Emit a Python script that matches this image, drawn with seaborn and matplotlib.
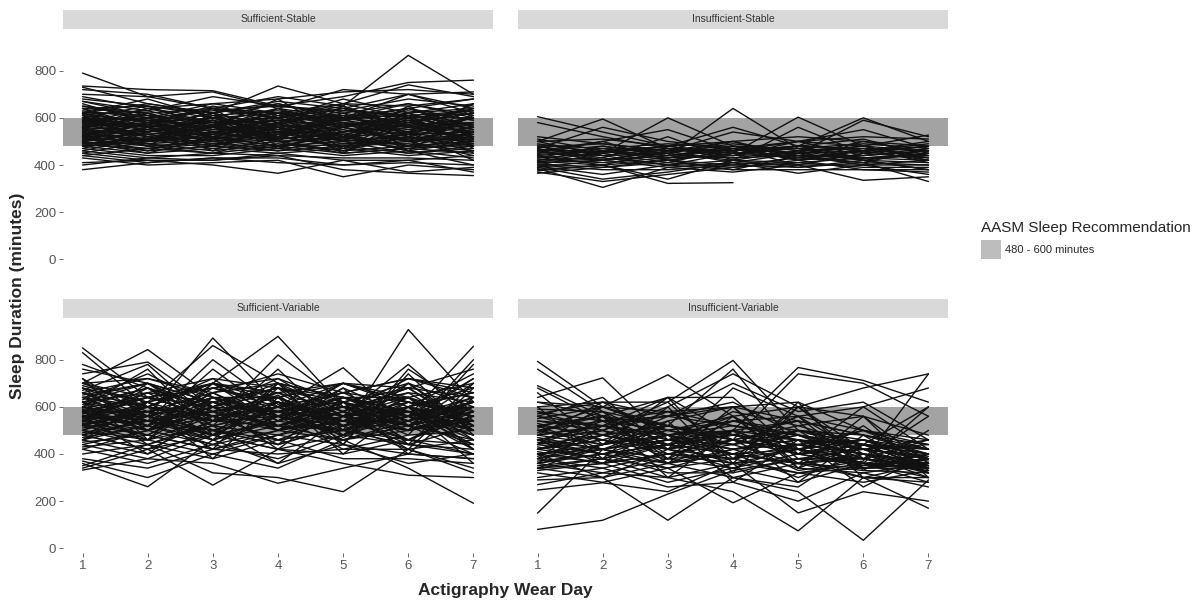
import numpy as np
import pandas as pd
import matplotlib
matplotlib.use("Agg")
import matplotlib.pyplot as plt
from matplotlib.patches import Patch, Rectangle
import seaborn as sns

days = [1, 2, 3, 4, 5, 6, 7]
panel_names = ["Sufficient-Stable", "Insufficient-Stable", "Sufficient-Variable", "Insufficient-Variable"]
band_low, band_high = 480, 600
band_label = "480 - 600 minutes"
legend_title = "AASM Sleep Recommendation"
y_ticks = [0, 200, 400, 600, 800]

# une ligne = un participant, 7 jours de port
suff_stable = [
    [790, 690, 640, 620, 600, 610, 630],
    [735, 720, 715, 650, 690, 750, 760],
    [720, 700, 640, 690, 650, 865, 700],
    [730, 660, 620, 735, 660, 740, 690],
    [700, 690, 710, 640, 720, 700, 640],
    [690, 640, 660, 680, 710, 720, 700],
    [680, 650, 620, 670, 640, 700, 710],
    [670, 630, 690, 650, 630, 680, 650],
    [650, 620, 640, 600, 660, 650, 680],
    [640, 650, 610, 630, 590, 620, 660],
    [630, 600, 630, 650, 620, 660, 610],
    [625, 610, 580, 600, 640, 600, 630],
    [620, 580, 600, 620, 590, 630, 590],
    [615, 630, 570, 590, 610, 580, 620],
    [610, 560, 600, 570, 630, 610, 570],
    [600, 590, 560, 610, 570, 600, 600],
    [595, 570, 620, 560, 600, 570, 580],
    [590, 600, 550, 590, 560, 620, 550],
    [585, 550, 590, 540, 580, 560, 600],
    [580, 610, 540, 580, 610, 540, 570],
    [575, 560, 580, 600, 540, 590, 530],
    [570, 530, 560, 550, 590, 550, 580],
    [565, 580, 530, 570, 530, 580, 540],
    [560, 540, 570, 520, 570, 530, 560],
    [555, 520, 550, 560, 510, 560, 520],
    [550, 570, 520, 540, 560, 510, 550],
    [545, 530, 560, 510, 540, 570, 500],
    [540, 500, 530, 550, 500, 530, 540],
    [535, 550, 500, 530, 550, 500, 520],
    [530, 510, 540, 500, 520, 540, 490],
    [525, 490, 510, 540, 490, 510, 530],
    [520, 530, 490, 510, 530, 480, 500],
    [515, 500, 520, 480, 500, 520, 480],
    [510, 480, 500, 520, 480, 500, 510],
    [505, 510, 470, 500, 510, 470, 490],
    [500, 470, 490, 470, 490, 490, 460],
    [495, 490, 460, 490, 460, 480, 480],
    [490, 460, 480, 460, 480, 450, 470],
    [485, 470, 450, 480, 450, 470, 450],
    [480, 450, 470, 450, 470, 440, 460],
    [470, 440, 440, 470, 440, 460, 430],
    [460, 430, 450, 440, 430, 430, 420],
    [450, 420, 420, 450, 420, 420, 440],
    [440, 410, 430, 430, 400, 410, 400],
    [430, 400, 410, 420, 350, 400, 380],
    [410, 420, 400, 365, 420, 370, 390],
    [400, 430, 420, 440, 380, 365, 355],
    [380, 410, 430, 410, 400, 420, 370],
    [600, 650, 560, 680, 520, 640, 560],
    [560, 480, 620, 500, 650, 520, 660],
    [520, 600, 480, 620, 470, 610, 480],
    [640, 540, 600, 520, 620, 500, 640],
    [480, 560, 460, 580, 450, 600, 450],
    [610, 500, 640, 480, 600, 460, 620],
    [570, 620, 510, 640, 500, 650, 510],
    [660, 580, 650, 600, 680, 620, 640],
    [620, 680, 600, 660, 600, 700, 620],
    [500, 540, 590, 470, 560, 610, 470],
    [450, 500, 520, 480, 530, 460, 500],
    [590, 520, 480, 560, 460, 540, 420],
    [620, 540, 590, 510, 610, 530, 600],
    [540, 620, 520, 600, 500, 620, 520],
    [580, 500, 610, 530, 580, 480, 610],
    [500, 580, 530, 610, 540, 590, 500],
    [640, 560, 520, 580, 640, 560, 520],
    [470, 540, 600, 540, 470, 520, 580],
    [600, 520, 560, 640, 560, 500, 560],
    [560, 640, 600, 520, 600, 660, 600],
    [520, 460, 540, 590, 520, 580, 640],
    [610, 590, 510, 470, 540, 600, 480],
    [490, 510, 570, 620, 580, 520, 460],
    [650, 600, 540, 560, 520, 480, 540],
    [530, 570, 640, 600, 650, 560, 600],
    [460, 520, 480, 530, 600, 640, 560],
    [580, 640, 580, 500, 460, 520, 500],
    [620, 660, 620, 560, 580, 540, 660],
    [540, 480, 450, 520, 560, 600, 620],
    [500, 450, 520, 580, 620, 580, 540],
    [590, 560, 620, 660, 600, 640, 590],
    [480, 500, 540, 500, 450, 470, 520],
    [560, 600, 660, 620, 560, 500, 440],
    [640, 620, 560, 520, 480, 540, 600],
    [510, 560, 500, 460, 520, 570, 510],
    [670, 610, 580, 640, 600, 560, 580],
    [440, 470, 510, 560, 500, 450, 480],
    [600, 560, 500, 540, 590, 640, 680],
    [550, 500, 560, 620, 660, 600, 550],
    [520, 580, 640, 580, 520, 460, 400],
]

insuff_stable = [
    [605, 540, 480, 450, 440, 430, 440],
    [580, 520, 470, 460, 480, 470, 460],
    [500, 595, 470, 430, 460, 420, 450],
    [470, 560, 500, 470, 430, 460, 480],
    [490, 450, 600, 480, 420, 440, 470],
    [460, 480, 440, 640, 470, 430, 450],
    [440, 460, 480, 560, 480, 600, 500],
    [480, 440, 470, 450, 603, 480, 460],
    [450, 470, 430, 480, 450, 590, 520],
    [520, 490, 460, 540, 500, 480, 527],
    [500, 510, 480, 500, 520, 500, 480],
    [485, 470, 490, 470, 500, 520, 510],
    [475, 490, 460, 480, 470, 490, 470],
    [465, 455, 470, 460, 480, 460, 490],
    [455, 440, 450, 490, 460, 470, 440],
    [445, 460, 420, 450, 470, 450, 430],
    [435, 420, 440, 430, 440, 440, 460],
    [430, 450, 410, 470, 420, 460, 420],
    [425, 410, 430, 440, 450, 420, 410],
    [420, 430, 400, 420, 410, 430, 440],
    [415, 400, 420, 400, 430, 410, 400],
    [410, 420, 390, 410, 400, 400, 420],
    [405, 390, 410, 390, 410, 390, 390],
    [400, 380, 380, 400, 390, 420, 380],
    [395, 360, 400, 380, 380, 380, 370],
    [390, 340, 370, 410, 365, 400, 360],
    [385, 305, 390, 370, 400, 335, 350],
    [380, 400, 340, 420, 390, 410, 330],
    [375, 400, 322, 325, np.nan, np.nan, np.nan],
    [370, 330, 360, 390, 420, 380, 380],
    [365, 390, 420, 380, 440, 400, 400],
    [450, 500, 550, 460, 500, 550, 470],
    [470, 430, 520, 420, 560, 450, 480],
    [430, 480, 450, 500, 440, 500, 450],
    [460, 420, 470, 440, 480, 430, 420],
    [510, 460, 440, 470, 450, 460, 500],
    [420, 470, 450, 420, 460, 480, 430],
    [480, 420, 440, 480, 440, 410, 470],
    [440, 400, 460, 500, 420, 470, 410],
    [400, 450, 480, 440, 500, 440, 460],
    [460, 500, 420, 460, 480, 510, 440],
    [410, 460, 430, 470, 400, 450, 480],
    [500, 440, 400, 450, 470, 420, 380],
    [390, 420, 460, 410, 450, 480, 420],
]

suff_variable = [
    [850, 640, 560, 600, 520, 580, 540],
    [830, 600, 700, 520, 620, 500, 600],
    [780, 680, 540, 650, 470, 600, 680],
    [740, 790, 600, 720, 560, 660, 500],
    [720, 560, 892, 610, 540, 700, 520],
    [700, 843, 640, 560, 700, 600, 740],
    [690, 620, 860, 700, 520, 640, 460],
    [680, 500, 700, 899, 600, 560, 620],
    [670, 780, 540, 820, 620, 700, 600],
    [660, 540, 800, 600, 766, 520, 700],
    [650, 700, 520, 760, 500, 928, 620],
    [640, 600, 720, 540, 680, 560, 857],
    [630, 740, 600, 680, 560, 780, 540],
    [620, 520, 680, 720, 620, 500, 800],
    [610, 680, 500, 600, 700, 620, 560],
    [600, 560, 640, 500, 580, 720, 660],
    [595, 640, 560, 660, 520, 560, 720],
    [590, 500, 600, 580, 640, 640, 520],
    [585, 620, 540, 620, 560, 580, 600],
    [580, 580, 620, 560, 600, 520, 580],
    [575, 540, 580, 640, 540, 600, 540],
    [570, 660, 520, 580, 620, 540, 620],
    [565, 520, 660, 520, 580, 680, 500],
    [560, 600, 560, 600, 520, 620, 560],
    [555, 560, 500, 560, 600, 560, 640],
    [550, 640, 600, 500, 560, 500, 580],
    [545, 500, 640, 640, 500, 640, 520],
    [540, 580, 540, 560, 640, 580, 460],
    [535, 620, 480, 620, 540, 540, 600],
    [530, 540, 580, 520, 600, 460, 560],
    [525, 480, 620, 580, 480, 600, 500],
    [520, 600, 520, 480, 580, 520, 620],
    [510, 560, 460, 560, 520, 580, 440],
    [500, 460, 560, 600, 460, 500, 560],
    [490, 540, 500, 460, 560, 440, 520],
    [480, 420, 540, 520, 500, 560, 420],
    [470, 520, 440, 560, 420, 480, 500],
    [460, 400, 500, 440, 520, 420, 460],
    [450, 480, 420, 500, 460, 520, 400],
    [440, 380, 480, 420, 400, 460, 440],
    [430, 460, 400, 480, 440, 400, 380],
    [420, 360, 440, 380, 480, 440, 420],
    [400, 440, 380, 460, 380, 380, 360],
    [380, 340, 420, 400, 420, 420, 340],
    [360, 261, 460, 360, 440, 360, 400],
    [340, 420, 268, 420, 360, 310, 300],
    [332, 380, 360, 276, 340, 400, 380],
    [350, 440, 320, 300, 240, 420, 320],
    [370, 300, 400, 340, 460, 340, 191],
    [720, 460, 640, 500, 680, 440, 700],
    [600, 760, 480, 700, 440, 740, 480],
    [700, 640, 700, 640, 700, 680, 760],
    [660, 720, 660, 740, 660, 720, 680],
    [480, 600, 380, 640, 400, 600, 420],
    [560, 400, 600, 420, 620, 400, 640],
    [620, 440, 520, 360, 560, 460, 600],
    [460, 620, 460, 680, 480, 700, 500],
    [520, 700, 580, 440, 640, 540, 720],
    [640, 520, 760, 560, 600, 480, 780],
    [580, 460, 700, 620, 440, 760, 580],
    [500, 580, 420, 700, 580, 420, 680],
    [760, 700, 620, 680, 640, 560, 600],
    [420, 500, 560, 460, 500, 600, 360],
    [680, 580, 480, 540, 700, 640, 420],
    [540, 660, 620, 500, 540, 500, 540],
    [600, 500, 660, 540, 640, 520, 580],
    [540, 680, 580, 640, 520, 600, 500],
    [660, 560, 480, 600, 660, 540, 640],
    [500, 620, 700, 560, 480, 620, 560],
    [620, 700, 560, 500, 620, 680, 520],
    [560, 480, 620, 680, 600, 520, 620],
    [700, 600, 540, 620, 560, 640, 700],
    [460, 560, 640, 580, 540, 460, 580],
    [580, 640, 560, 460, 500, 580, 480],
    [640, 540, 600, 700, 640, 580, 500],
    [520, 460, 520, 580, 660, 620, 560],
    [680, 620, 680, 600, 520, 560, 600],
    [480, 540, 460, 540, 600, 660, 620],
    [600, 680, 600, 520, 460, 540, 440],
    [560, 600, 700, 660, 580, 500, 580],
    [440, 500, 580, 620, 560, 600, 660],
    [620, 560, 500, 440, 520, 600, 540],
    [500, 440, 540, 600, 620, 560, 480],
    [700, 720, 640, 580, 600, 640, 560],
    [580, 520, 460, 520, 580, 680, 640],
    [520, 580, 660, 700, 640, 580, 520],
    [640, 700, 620, 560, 500, 440, 400],
    [460, 520, 600, 660, 700, 620, 560],
    [600, 540, 480, 420, 480, 560, 620],
    [560, 640, 680, 620, 560, 520, 460],
    [540, 480, 420, 480, 540, 600, 660],
    [620, 660, 720, 680, 620, 560, 500],
    [480, 420, 480, 540, 500, 460, 400],
    [660, 600, 560, 600, 660, 720, 640],
    [580, 500, 440, 500, 560, 620, 580],
]

insuff_variable = [
    [793, 600, 520, 480, 460, 440, 420],
    [690, 560, 480, 400, 500, 420, 380],
    [680, 540, 560, 620, 480, 380, 350],
    [640, 723, 460, 420, 440, 400, 360],
    [620, 600, 736, 560, 420, 460, 400],
    [600, 620, 620, 797, 500, 480, 440],
    [590, 580, 520, 760, 420, 500, 380],
    [580, 500, 600, 740, 600, 420, 460],
    [570, 620, 480, 500, 767, 712, 620],
    [560, 480, 580, 460, 740, 700, 560],
    [550, 600, 500, 560, 600, 680, 740],
    [540, 520, 640, 640, 400, 600, 680],
    [530, 460, 540, 600, 380, 360, 600],
    [520, 560, 440, 580, 520, 440, 340],
    [510, 600, 500, 440, 560, 500, 420],
    [500, 440, 560, 520, 480, 380, 460],
    [490, 580, 460, 480, 440, 460, 380],
    [480, 520, 420, 540, 560, 400, 340],
    [470, 420, 520, 460, 500, 340, 400],
    [460, 500, 380, 500, 400, 420, 320],
    [450, 400, 480, 420, 460, 360, 360],
    [440, 540, 400, 380, 500, 440, 340],
    [430, 380, 460, 440, 360, 400, 300],
    [420, 460, 360, 400, 420, 340, 380],
    [410, 360, 440, 360, 380, 380, 320],
    [400, 420, 340, 420, 340, 320, 360],
    [390, 480, 420, 340, 440, 360, 300],
    [380, 340, 400, 380, 320, 340, 340],
    [370, 400, 320, 320, 380, 300, 280],
    [360, 320, 380, 400, 300, 400, 320],
    [350, 380, 300, 360, 420, 340, 360],
    [340, 300, 360, 300, 360, 300, 300],
    [330, 360, 280, 340, 280, 360, 280],
    [320, 280, 340, 193, 320, 280, 330],
    [300, 340, 260, 280, 200, 320, 260],
    [290, 300, 119, 300, 240, 34, 290],
    [270, 320, 300, 240, 74, 300, 170],
    [247, 278, 240, 360, 150, 240, 200],
    [149, 420, 480, 300, 260, 440, 340],
    [80, 119, 230, 330, 380, 420, 440],
    [760, 580, 380, 600, 340, 560, 300],
    [660, 440, 640, 360, 620, 330, 500],
    [600, 380, 600, 320, 600, 380, 560],
    [560, 640, 420, 680, 560, 600, 420],
    [500, 560, 300, 500, 280, 480, 320],
    [460, 360, 540, 280, 460, 260, 400],
    [420, 500, 620, 380, 600, 560, 360],
    [380, 560, 360, 560, 340, 440, 600],
    [340, 440, 520, 440, 560, 340, 380],
    [480, 620, 560, 700, 580, 620, 460],
    [440, 600, 580, 600, 620, 500, 440],
    [620, 560, 640, 480, 540, 300, 360],
    [360, 520, 460, 560, 360, 520, 330],
    [400, 300, 420, 500, 400, 460, 350],
    [520, 420, 360, 460, 330, 370, 740],
    [500, 460, 420, 380, 420, 460, 380],
    [420, 480, 520, 460, 400, 360, 340],
    [460, 520, 480, 420, 460, 400, 360],
    [380, 440, 480, 520, 480, 420, 380],
    [540, 500, 440, 400, 360, 340, 360],
    [440, 400, 360, 420, 480, 440, 400],
    [360, 420, 460, 500, 540, 480, 420],
    [520, 560, 520, 460, 420, 380, 340],
    [400, 360, 400, 460, 420, 360, 330],
    [480, 440, 480, 540, 500, 440, 380],
    [340, 380, 440, 480, 440, 400, 360],
    [560, 520, 480, 440, 500, 460, 420],
    [420, 380, 340, 380, 440, 500, 460],
    [460, 420, 460, 400, 360, 380, 350],
    [380, 420, 380, 340, 400, 440, 400],
    [500, 540, 580, 520, 460, 400, 370],
    [440, 480, 440, 500, 460, 420, 340],
    [360, 400, 440, 400, 360, 330, 320],
    [520, 480, 420, 460, 520, 560, 480],
    [400, 440, 500, 460, 400, 350, 380],
    [580, 540, 500, 540, 480, 420, 390],
    [340, 360, 400, 440, 480, 440, 420],
    [480, 520, 560, 600, 540, 480, 400],
    [420, 460, 400, 360, 320, 360, 400],
    [460, 400, 440, 480, 420, 380, 340],
]

# Tableau long pour seaborn
rows = []
for name, series in zip(panel_names, [suff_stable, insuff_stable, suff_variable, insuff_variable]):
    for i, vals in enumerate(series):
        for d, v in zip(days, vals):
            rows.append({"group": name, "id": f"{name}-{i}", "day": d, "minutes": v})
df = pd.DataFrame(rows)

sns.set_style("white")
plt.rcParams["font.family"] = ["Liberation Sans", "DejaVu Sans"]

fig = plt.figure(figsize=(12.04, 6.08), dpi=100)

# positions des panneaux (gauche, bas) en pixels
W, H = 1204, 608
positions = [
    (63, 264), (518, 264),
    (63, 553), (518, 553),
]
pw, ph = 430, 231

for k, name in enumerate(panel_names):
    x0, ybot = positions[k]
    ax = fig.add_axes([x0 / W, 1 - ybot / H, pw / W, ph / H])
    ax.axhspan(band_low, band_high, color="#a3a3a3", lw=0, zorder=0)
    sns.lineplot(data=df[df.group == name], x="day", y="minutes", units="id",
                 estimator=None, color="#111111", linewidth=1.0, ax=ax, legend=False)
    ax.set_xlim(0.7, 7.3)
    ax.set_ylim(-20, 960)
    ax.set_xlabel("")
    ax.set_ylabel("")
    for s in ax.spines.values():
        s.set_visible(False)
    ax.set_yticks(y_ticks)
    ax.set_xticks(days)
    ax.tick_params(axis="both", length=3, width=0.6, color="#555555",
                   labelcolor="#555555", labelsize=9.5, pad=2)
    ax.tick_params(axis="both", which="both", left=(k % 2 == 0), bottom=(k >= 2),
                   labelleft=(k % 2 == 0), labelbottom=(k >= 2))
    # bandeau du facet
    ax.add_patch(Rectangle((0, 1 + 4 / ph), 1, 19 / ph, transform=ax.transAxes,
                           clip_on=False, color="#d9d9d9", lw=0))
    ax.text(0.5, 1 + 13.5 / ph, name, transform=ax.transAxes, ha="center", va="center",
            fontsize=7.5, color="#333333")

fig.text(18 / W, 1 - 296 / H, "Sleep Duration (minutes)", rotation=90, ha="center",
         va="center", fontsize=12.5, fontweight="bold")
fig.text(505 / W, 1 - 590 / H, "Actigraphy Wear Day", ha="center", va="center",
         fontsize=12.5, fontweight="bold")

fig.legend(handles=[Patch(facecolor="#bdbdbd", edgecolor="none", label=band_label)],
           title=legend_title, loc="upper left", bbox_to_anchor=(975 / W, 1 - 215 / H),
           frameon=False, title_fontsize=11, fontsize=8, handlelength=1.8,
           handleheight=2.2, alignment="left", borderpad=0, handletextpad=0.4)

fig.savefig("out.png", dpi=100)
